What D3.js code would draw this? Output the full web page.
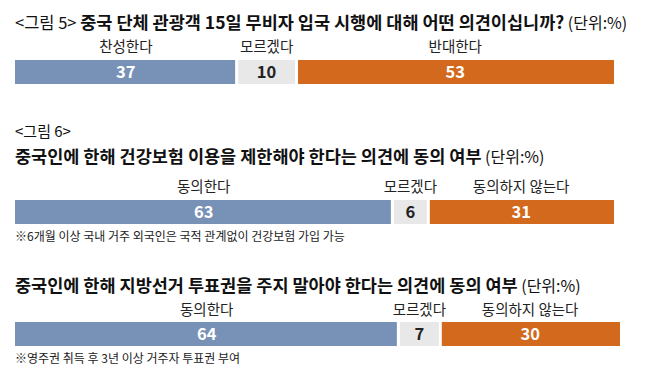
<!DOCTYPE html>
<html>
<head>
<meta charset="utf-8">
<script src="https://cdn.jsdelivr.net/npm/d3@7"></script>
<style>
  body { margin: 0; background: #fff; }
  svg { display: block; font-family: "Noto Sans CJK KR", "Noto Sans", sans-serif; }
</style>
</head>
<body>
<svg id="chart" width="658" height="381"></svg>
<script>
// data
var titles = [
    "중국 단체 관광객 15일 무비자 입국 시행에 대해 어떤 의견이십니까?",
    "중국인에 한해 건강보험 이용을 제한해야 한다는 의견에 동의 여부",
    "중국인에 한해 지방선거 투표권을 주지 말아야 한다는 의견에 동의 여부"
];
var categories1 = ["찬성한다", "모르겠다", "반대한다"];
var categories2 = ["동의한다", "모르겠다", "동의하지 않는다"];
var values1 = [37, 10, 53];
var values2 = [63, 6, 31];
var values3 = [64, 7, 30];
var footnotes = [
    "",
    "※6개월 이상 국내 거주 외국인은 국적 관계없이 건강보험 가입 가능",
    "※영주권 취득 후 3년 이상 거주자 투표권 부여"
];

var colors = ["#7891b6", "#e8e8e8", "#d2691d"];
var textColors = ["#ffffff", "#222222", "#ffffff"];

var svg = d3.select("#chart");
var x = d3.scaleLinear().domain([0, 100]).range([15, 614]);

// layout of the three blocks
var blocks = [
    { prefix: "<그림 5> ", title: titles[0], cats: categories1, vals: values1, footnote: footnotes[0],
      titleY: 29, labelY: 52, barY: 60 },
    { prefix: "", title: titles[1], cats: categories2, vals: values2, footnote: footnotes[1],
      titleY: 163, labelY: 192, barY: 200 },
    { prefix: "", title: titles[2], cats: categories2, vals: values3, footnote: footnotes[2],
      titleY: 292, labelY: 315, barY: 322 }
];
var barH = 24;

svg.append("text")
    .attr("x", 15).attr("y", 137)
    .attr("font-size", 15).attr("fill", "#111")
    .text("<그림 6>");

blocks.forEach(function(b) {
    var g = svg.append("g");

    var t = g.append("text")
        .attr("x", 15).attr("y", b.titleY)
        .attr("font-size", 17.5).attr("fill", "#111");
    if (b.prefix) t.append("tspan").attr("font-weight", 400).attr("font-size", 16.5).text(b.prefix);
    t.append("tspan").attr("font-weight", 700).text(b.title);
    t.append("tspan").attr("font-weight", 400).attr("font-size", 16).text(" (단위:%)");

    var cum = 0;
    var segs = b.vals.map(function(v, i) {
        var s = { v: v, i: i, x0: cum, x1: cum + v, cat: b.cats[i] };
        cum += v;
        return s;
    });

    g.selectAll("rect")
        .data(segs)
        .enter().append("rect")
        .attr("x", function(d) { return x(d.x0) + (d.i > 0 ? 1.5 : 0); })
        .attr("y", b.barY)
        .attr("width", function(d) { return x(d.x1) - x(d.x0) - (d.i > 0 ? 1.5 : 0) - (d.i < 2 ? 1.5 : 0); })
        .attr("height", barH)
        .attr("fill", function(d) { return colors[d.i]; });

    g.selectAll("text.val")
        .data(segs)
        .enter().append("text")
        .attr("class", "val")
        .attr("x", function(d) { return (x(d.x0) + x(d.x1)) / 2; })
        .attr("y", b.barY + barH / 2 + 6)
        .attr("text-anchor", "middle")
        .attr("font-size", 16.5).attr("font-weight", 700)
        .attr("fill", function(d) { return textColors[d.i]; })
        .text(function(d) { return d.v; });

    g.selectAll("text.cat")
        .data(segs)
        .enter().append("text")
        .attr("class", "cat")
        .attr("x", function(d) { return (x(d.x0) + x(d.x1)) / 2; })
        .attr("y", b.labelY)
        .attr("text-anchor", "middle")
        .attr("font-size", 14.5).attr("fill", "#222")
        .text(function(d) { return d.cat; });

    if (b.footnote) {
        g.append("text")
            .attr("x", 15).attr("y", b.barY + barH + 17)
            .attr("font-size", 12).attr("fill", "#222")
            .text(b.footnote);
    }
});
</script>
</body>
</html>
